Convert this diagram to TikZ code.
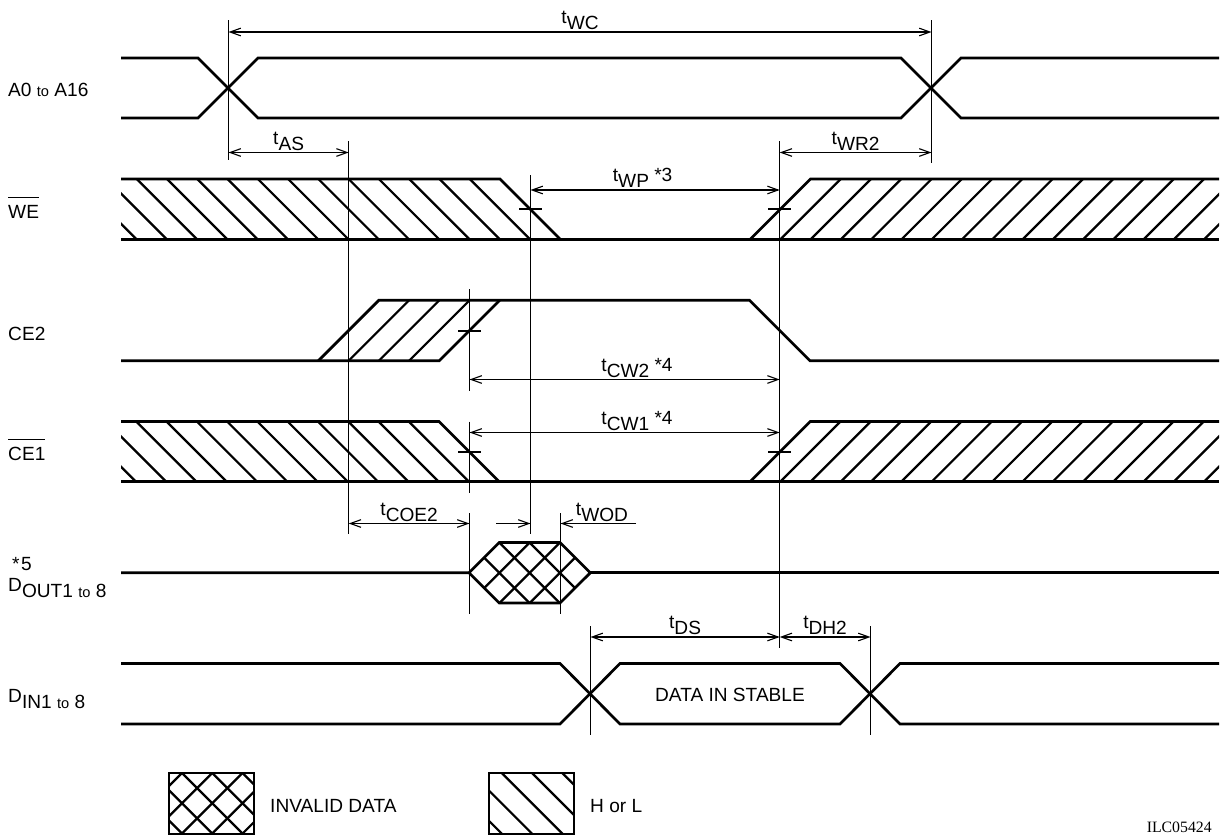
\documentclass[tikz,border=0pt]{standalone}
\usepackage{fontspec}
\usepackage{tikz}
\usetikzlibrary{arrows.meta}
\setmainfont{Liberation Sans}
\newcommand{\lowtxt}[1]{\raisebox{-.3em}{#1}}
\newcommand{\smalltxt}[1]{{\fontsize{12.5}{15}\selectfont #1}}
\newcommand{\bartxt}[1]{$\overline{\mbox{\rule{0pt}{1.02em}#1}}$}
\tikzset{
  signal/.style={line width=2.3pt, line join=miter},
  hatchline/.style={line width=1.9pt},
  guide/.style={line width=0.95pt},
  tick/.style={line width=0.95pt},
  dim/.style={line width=0.95pt, <->},
  dimone/.style={line width=0.95pt, ->},
  lbl/.style={anchor=west, inner sep=0pt, font=\fontsize{16.3}{18}\selectfont},
  tlbl/.style={above, inner sep=1.5pt, font=\fontsize{16.3}{18}\selectfont},
  >={Straight Barb[length=3.2mm,width=2.3mm]}
}
\begin{document}
\begin{tikzpicture}[x=0.03cm,y=-0.03cm]
        \useasboundingbox (0,0) rectangle (1223,836);
        % address
        \draw[signal] (121,58) -- (198,58) -- (258,118) -- (901,118) -- (961,58) -- (1219,58);
        \draw[signal] (121,118) -- (198,118) -- (258,58) -- (901,58) -- (961,118) -- (1219,118);
        % write enable
        \begin{scope}
          \clip (121,179) -- (500,179) -- (560.5,239.5) -- (121,239.5) -- cycle;
          \foreach \k in {1,...,14}
            \draw[hatchline] ({500-30.27*\k},179) -- ++(60.5,60.5);
        \end{scope}
        \begin{scope}
          \clip (750,239.5) -- (810.5,179) -- (1219,179) -- (1219,239.5) -- cycle;
          \foreach \k in {1,...,15}
            \draw[hatchline] ({750+30.27*\k},239.5) -- ++(60.5,-60.5);
        \end{scope}
        \draw[signal] (121,179) -- (500,179) -- (560.5,239.5);
        \draw[signal] (121,239.5) -- (1219,239.5);
        \draw[signal] (750,239.5) -- (810.5,179) -- (1219,179);
        % ce2
        \begin{scope}
          \clip (318.4,360.7) -- (378.8,300.3) -- (499.6,300.3) -- (439.2,360.7) -- cycle;
          \foreach \k in {1,...,3}
            \draw[hatchline] ({318.4+30.27*\k},360.7) -- ++(60.4,-60.4);
        \end{scope}
        \draw[signal] (121,360.7) -- (439.2,360.7) -- (499.6,300.3);
        \draw[signal] (318.4,360.7) -- (378.8,300.3) -- (749.5,300.3) -- (810,360.7) -- (1219,360.7);
        % ce1
        \begin{scope}
          \clip (121,421.5) -- (439,421.5) -- (499.2,481.7) -- (121,481.7) -- cycle;
          \foreach \k in {1,...,12}
            \draw[hatchline] ({439-30.27*\k},421.5) -- ++(60.2,60.2);
        \end{scope}
        \begin{scope}
          \clip (750,481.7) -- (810.2,421.5) -- (1219,421.5) -- (1219,481.7) -- cycle;
          \foreach \k in {1,...,15}
            \draw[hatchline] ({750+30.27*\k},481.7) -- ++(60.2,-60.2);
        \end{scope}
        \draw[signal] (121,421.5) -- (439,421.5) -- (499.2,481.7);
        \draw[signal] (121,481.7) -- (1219,481.7);
        \draw[signal] (750,481.7) -- (810.2,421.5) -- (1219,421.5);
        % data out
        \begin{scope}
          \clip (469,572.8) -- (499.3,542.5) -- (560,542.5) -- (590.3,572.8) -- (560,603) -- (499.3,603) -- cycle;
          \foreach \k in {-1,0,1}
            \draw[hatchline] ({499.3+30.27*\k},542.5) -- ++(60.5,60.5);
          \foreach \k in {-1,0,1}
            \draw[hatchline] ({560-30.27*\k},542.5) -- ++(-60.5,60.5);
        \end{scope}
        \draw[signal] (121,572.8) -- (469,572.8) -- (499.3,542.5) -- (560,542.5) -- (590.3,572.8) -- (560,603) -- (499.3,603) -- (469,572.8);
        \draw[signal] (590.3,572.8) -- (1219,572.8);
        % data in
        \draw[signal] (121,663.5) -- (560,663.5) -- (620,724) -- (840,724) -- (900,663.5) -- (1219,663.5);
        \draw[signal] (121,724) -- (560,724) -- (620,663.5) -- (840,663.5) -- (900,724) -- (1219,724);
        % legend
        \begin{scope}
          \clip (169,773) rectangle (254,834);
          \foreach \k in {-2,...,2}
            \draw[hatchline] ({182+30.27*\k},773) -- ++(61,61);
          \foreach \k in {0,...,4}
            \draw[hatchline] ({182+30.27*\k},773) -- ++(-61,61);
        \end{scope}
        \draw[signal] (169,773) rectangle (254,834);
        \begin{scope}
          \clip (489,773) rectangle (574,834);
          \foreach \k in {-2,...,2}
            \draw[hatchline] ({501.7+30.27*\k},773) -- ++(61,61);
        \end{scope}
        \draw[signal] (489,773) rectangle (574,834);
        % guide ends
        \coordinate (gA1) at (228.5,20);    \coordinate (gA2) at (228.5,160);
        \coordinate (gB1) at (931.5,20);    \coordinate (gB2) at (931.5,163);
        \coordinate (gC1) at (348.7,141);   \coordinate (gC2) at (348.7,534);
        \coordinate (gD1) at (530.5,175);   \coordinate (gD2) at (530.5,534);
        \coordinate (gE1) at (779.7,141);   \coordinate (gE2) at (779.7,648);
        \coordinate (gF1) at (469.5,289);   \coordinate (gF2) at (469.5,390.5);
        \coordinate (gG1) at (469.5,421.5); \coordinate (gG2) at (469.5,493);
        \coordinate (gH1) at (469.5,513);   \coordinate (gH2) at (469.5,613.5);
        \coordinate (gI1) at (560.5,513);   \coordinate (gI2) at (560.5,613.5);
        \coordinate (gJ1) at (590.5,626);   \coordinate (gJ2) at (590.5,735);
        \coordinate (gK1) at (870.5,626);   \coordinate (gK2) at (870.5,735);
        \draw[guide]
        (gA1) -- (gA2) (gB1) -- (gB2) (gC1) -- (gC2) (gD1) -- (gD2)
        (gE1) -- (gE2) (gF1) -- (gF2) (gG1) -- (gG2) (gH1) -- (gH2)
        (gI1) -- (gI2) (gJ1) -- (gJ2) (gK1) -- (gK2)
        ;
        % ticks
        \coordinate (wpL1) at (519,209);   \coordinate (wpL2) at (542,209);
        \coordinate (wpR1) at (768,209);   \coordinate (wpR2) at (791,209);
        \coordinate (cwA1) at (458,331);   \coordinate (cwA2) at (481,331);
        \coordinate (cwB1) at (458,452);   \coordinate (cwB2) at (481,452);
        \coordinate (cwC1) at (768,452);   \coordinate (cwC2) at (791,452);
        \draw[tick] (wpL1) -- (wpL2) (wpR1) -- (wpR2) (cwA1) -- (cwA2) (cwB1) -- (cwB2) (cwC1) -- (cwC2);
        % timings
        \coordinate (wcL) at (228.5,32);    \coordinate (wcR) at (931.5,32);
        \coordinate (asL) at (228.5,152.5); \coordinate (asR) at (348.7,152.5);
        \coordinate (wrL) at (779.7,152.5); \coordinate (wrR) at (931.5,152.5);
        \coordinate (wpL) at (530.5,190);   \coordinate (wpR) at (779.7,190);
        \coordinate (c2L) at (469.5,379.5); \coordinate (c2R) at (779.7,379.5);
        \coordinate (c1L) at (469.5,432.5); \coordinate (c1R) at (779.7,432.5);
        \coordinate (coL) at (348.7,523.5); \coordinate (coR) at (469.5,523.5);
        \coordinate (woA) at (496,523.5);   \coordinate (woB) at (530.5,523.5);
        \coordinate (woC) at (636,523.5);   \coordinate (woD) at (560.5,523.5);
        \coordinate (dsL) at (590.5,637);   \coordinate (dsR) at (779.7,637);
        \coordinate (dhL) at (779.7,637);   \coordinate (dhR) at (870.5,637);
        \draw
        (wcL) edge[dim] node[tlbl] (tWC) {t\lowtxt{WC}} (wcR)
        (asL) edge[dim] node[tlbl] (tAS) {t\lowtxt{AS}} (asR)
        (wrL) edge[dim] node[tlbl] (tWR) {t\lowtxt{WR2}} (wrR)
        (wpL) edge[dim] node[tlbl,pos=.45] (tWP) {t\lowtxt{WP} *3} (wpR)
        (c2L) edge[dim] node[tlbl,pos=.54] (tCWB) {t\lowtxt{CW2} *4} (c2R)
        (c1L) edge[dim] node[tlbl,pos=.54] (tCWA) {t\lowtxt{CW1} *4} (c1R)
        (coL) edge[dim] node[tlbl] (tCOE) {t\lowtxt{COE2}} (coR)
        (dsL) edge[dim] node[tlbl] (tDS) {t\lowtxt{DS}} (dsR)
        (dhL) edge[dim] node[tlbl] (tDH) {t\lowtxt{DH2}} (dhR)
        (woA) edge[dimone] (woB)
        (woC) edge[dimone] (woD)
        ;
        \node[lbl,anchor=south west,inner sep=1.5pt] (tWOD) at (574,523.5) {t\lowtxt{WOD}};
        % names
        \node[lbl] (A) at (8,90) {A0 \smalltxt{to} A16};
        \node[lbl,anchor=base west] (WE) at (8,218) {\bartxt{WE}};
        \node[lbl] (CEB) at (8,334) {CE2};
        \node[lbl,anchor=base west] (CEA) at (8,460) {\bartxt{CE1}};
        \node[lbl] (DOa) at (12,564) {*\kern.08em 5};
        \node[lbl] (DOb) at (8,588) {D\lowtxt{OUT1 \smalltxt{to} 8}};
        \node[lbl] (DI) at (8,699) {D\lowtxt{IN1 \smalltxt{to} 8}};
        \node[lbl,anchor=center] (DS) at (730,694.5) {DATA IN STABLE};
        \node[lbl] (INV) at (270,806) {INVALID DATA};
        \node[lbl] (HL) at (590,806) {H or L};
        \node[lbl,anchor=east,font=\fontsize{13.5}{15}\selectfont\setmainfont{Liberation Serif}] (ILC) at (1212,827) {ILC05424};
\end{tikzpicture}
\end{document}
